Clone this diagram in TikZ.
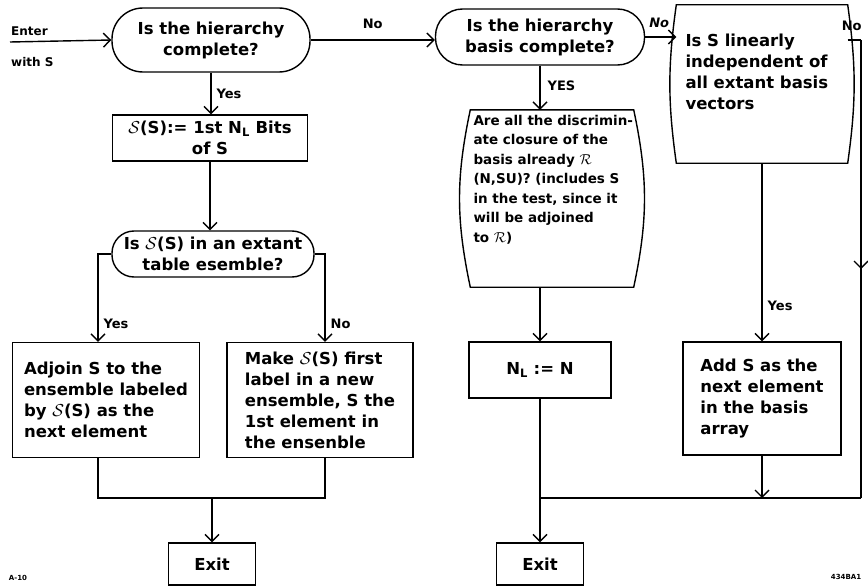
\documentclass[tikz,border=0pt]{standalone}
\usepackage{fontspec}
\setmainfont{DejaVu Sans}
\usetikzlibrary{arrows.meta}
\usetikzlibrary{calc, positioning, shapes, shapes.misc}
\usetikzlibrary{decorations, decorations.markings}
\newcommand{\flowfont}{\fontsize{16.5}{21}\selectfont\bfseries}
\newcommand{\densefont}{\fontsize{13.5}{19.5}\selectfont\bfseries}
\newcommand{\lblfont}{\fontsize{13}{15}\selectfont\bfseries}
\tikzset{
    wire/.style={line width=1.4pt},
    arr/.style={wire, -{Straight Barb[length=7pt,width=14pt]}},
    midarrow/.style={
        decoration={
            markings,
            mark= at position 0.5 with
                {
                    \arrow[line width=1.4pt]{Straight Barb[length=7pt,width=14pt]}
                },
        },
        postaction={decorate}
    },
    decbox/.style={rectangle, rounded corners=#1, draw, line width=1.4pt, align=center, inner sep=2pt, font=\flowfont},
    procbox/.style={rectangle, draw, line width=1.4pt, align=left, inner sep=2pt, font=\flowfont},
    curvbox/.style={rectangle, inner sep=0pt},
    boxtext/.style={align=left, inner sep=0pt, font=\flowfont},
    lbl/.style={inner sep=1pt, font=\lblfont},
    tag/.style={inner sep=0pt, font=\fontsize{7}{8}\selectfont\bfseries}
}
\begin{document}
\begin{tikzpicture}[x=1pt, y=-1pt]
    \useasboundingbox (0,0) rectangle (868,586);
    \def \bend {8}
    % left branch
    \coordinate (in) at (10,42);
    \node[lbl, anchor=west, font=\fontsize{12}{14}\selectfont\bfseries] (enter) at (10,31) {Enter};
    \node[lbl, anchor=west, font=\fontsize{12}{14}\selectfont\bfseries] (withs) at (10,62) {with S};
    \node[decbox=31pt, minimum width=198, minimum height=64] (dec1) at (211,40) {Is the hierarchy\\complete?};
    \node[procbox, align=center, minimum width=195, minimum height=46] (bits) at (210,138) {$\mathcal{S}$(S):= 1st N\textsubscript{L} Bits\\of S};
    \node[decbox=22pt, minimum width=202, minimum height=46] (dec2) at (213,254) {Is $\mathcal{S}$(S) in an extant\\table esemble?};
    \node[procbox, minimum width=187, minimum height=115] (adjoin) at (106,400) {Adjoin S to the\\ensemble labeled\\by $\mathcal{S}$(S) as the\\next element};
    \node[procbox, minimum width=186, minimum height=115] (make) at (320,400) {Make $\mathcal{S}$(S) first\\label in a new\\ensemble, S the\\1st element in\\the ensenble};
    \node[procbox, align=center, minimum width=87, minimum height=42] (exit1) at (212,564) {Exit};
    \coordinate (join1) at (212,498);
    % right branch
    \node[decbox=27pt, minimum width=209, minimum height=56] (dec3) at (540,37) {Is the hierarchy\\basis complete?};
    \node[curvbox, minimum width=171, minimum height=158] (box4) at (762,84) {};
    \node[boxtext, anchor=north west] (box4t) at ([shift={(9,29)}]box4.north west) {Is S linearly\\independent of\\all extant basis\\vectors};
    \node[curvbox, minimum width=163, minimum height=177] (box5) at (552,198.5) {};
    \node[boxtext, anchor=north west, font=\densefont] (box5t) at ([shift={(3,5)}]box5.north west) {Are all the discrimin-\\ate closure of the\\basis already $\mathcal{R}$\\(N,SU)? (includes S\\in the test, since it\\will be adjoined\\to $\mathcal{R}$)};
    \node[procbox, align=center, minimum width=142, minimum height=56] (nl) at (540,370) {N\textsubscript{L} := N};
    \node[procbox, minimum width=158, minimum height=113] (add) at (762,398.5) {Add S as the\\next element\\in the basis\\array};
    \node[procbox, align=center, minimum width=87, minimum height=42] (exit2) at (540,564) {Exit};
    \coordinate (join2) at (540,498);
    \coordinate (rtop) at (861,40);
    \coordinate (rbot) at (861,498);
    % curved sides
    \draw[wire] (box4.north west) to[bend right=\bend] (box4.south west) -- (box4.south east) to[bend right=\bend] (box4.north east) -- cycle;
    \draw[wire] (box5.north west) to[bend right=12] (box5.south west) -- (box5.south east) to[bend right=12] (box5.north east) -- cycle;
    % connectors
    \draw[arr] (in) -- (dec1.west);
    \draw[arr] (dec1.east) -- node[lbl, above=10pt] (no1) {No} (dec1.east -| dec3.west);
    \draw[arr] (dec1.south) -- node[lbl, right=4pt, pos=0.5] (yes1) {Yes} (dec1.south |- bits.north);
    \draw[arr] (bits.south) -- (bits.south |- dec2.north);
    \draw[arr] (dec2.west) -| node[lbl, right=4pt, pos=0.9] (yes2) {Yes} ([xshift=-8]adjoin.north);
    \draw[arr] (dec2.east) -| node[lbl, right=4pt, pos=0.9] (no2) {No} ([xshift=5]make.north);
    \draw[wire] ([xshift=-8]adjoin.south) |- (join1) -| ([xshift=5]make.south);
    \draw[arr] (join1) -- (exit1.north);
    \draw[arr] (dec3.east) -- node[lbl, above=8pt, pos=0.45, font=\lblfont\itshape] (no3) {No} (dec3.east -| box4.west);
    \draw[arr] (dec3.south) -- node[lbl, right=6pt, pos=0.45] (yes3) {YES} (dec3.south |- box5.north);
    \draw[arr] (box5.south -| dec3.south) -- (dec3.south |- nl.north);
    \draw[arr] (nl.south) -- (exit2.north);
    \draw[arr] (box4.south) -- node[lbl, right=4pt, pos=0.8] (yes4) {Yes} (box4.south |- add.north);
    \draw[arr] (add.south) -- (add.south |- join2);
    \draw[wire] (box4.east |- rtop) -- node[lbl, above=8pt, pos=0.3] (no4) {No} (rtop);
    \draw[wire, midarrow] (rtop) -- (rbot);
    \draw[wire] (rbot) -- (join2);
    % tags
    \node[tag] (tagl) at (18,578) {A-10};
    \node[tag] (tagr) at (846,577) {434BA1};
\end{tikzpicture}
\end{document}
